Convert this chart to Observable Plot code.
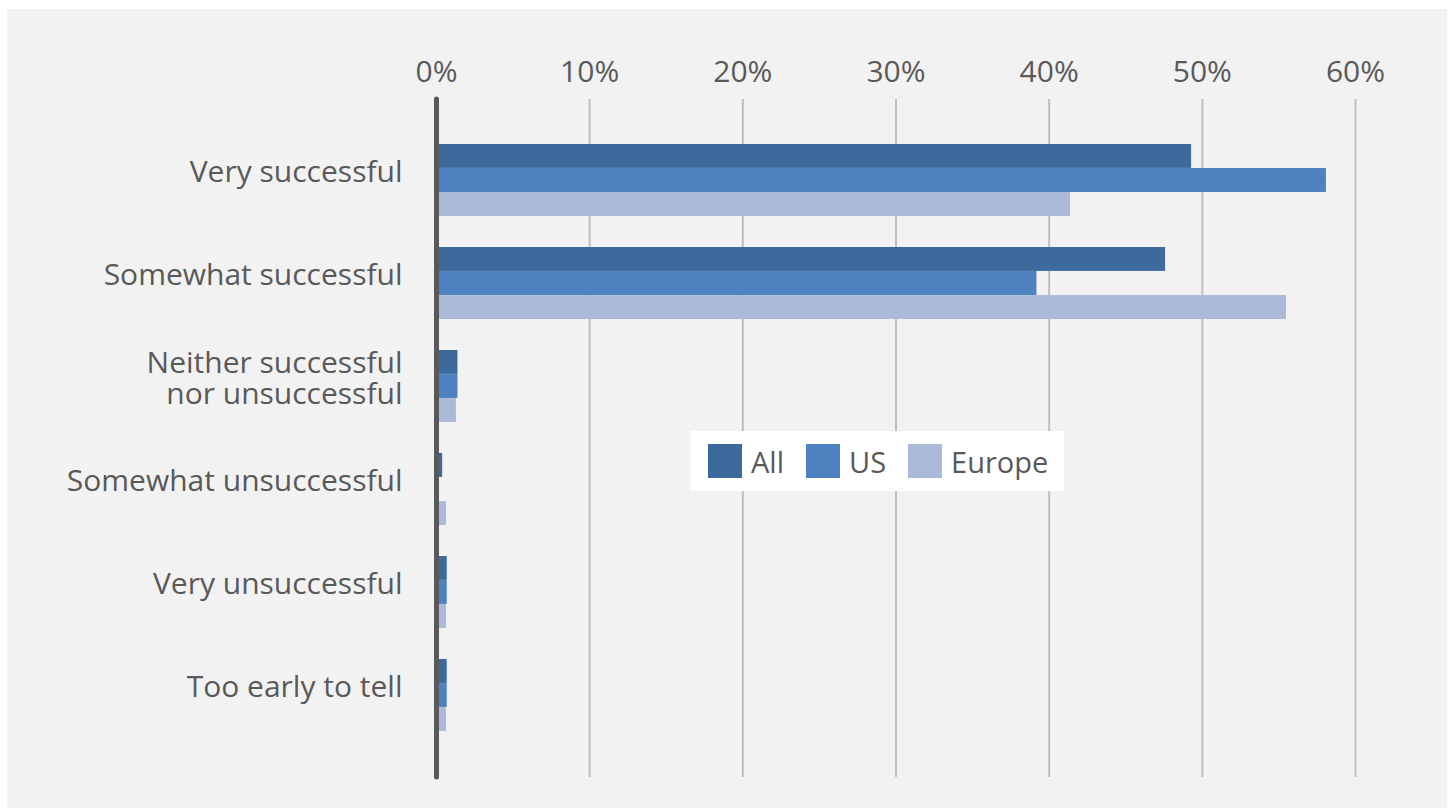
<!DOCTYPE html>
<html>
<head>
<meta charset="utf-8">
<script src="https://cdn.jsdelivr.net/npm/d3@7"></script>
<script src="https://cdn.jsdelivr.net/npm/@observablehq/plot@0.6"></script>
<style>
  body { margin: 0; background: #ffffff; }
  #panel { position: absolute; left: 7px; top: 9px; width: 1440px; height: 799px; background: #f2f2f2; font-family: "Open Sans", sans-serif; color: #595959; }
  #legend { position: absolute; left: 684px; top: 422px; width: 373px; height: 60px; background: #ffffff; display: flex; align-items: center; box-sizing: border-box; padding-left: 17px; font-size: 29px; }
  .item { display: flex; align-items: center; margin-right: 22px; }
  .sw { width: 34px; height: 34px; margin-right: 9px; }
</style>
</head>
<body>
<div id="panel"><div id="chart"></div><div id="legend"></div></div>
<script>
const categories = ["Very successful", "Somewhat successful", "Neither successful\nnor unsuccessful", "Somewhat unsuccessful", "Very unsuccessful", "Too early to tell"];
const series = ["All", "US", "Europe"];
const allValues = [0.493, 0.476, 0.014, 0.004, 0.007, 0.007];
const usValues = [0.581, 0.392, 0.014, 0.0, 0.007, 0.007];
const europeValues = [0.414, 0.555, 0.013, 0.0065, 0.0065, 0.0065];
const xTicks = [0, 0.1, 0.2, 0.3, 0.4, 0.5, 0.6];
const colors = ["#3d6a9c", "#4d81bf", "#abbad8"];

const W = 1440, H = 799, mt = 90, mb = 31;
const padInner = 0.3, padOuter = 0.44;
const step = (H - mt - mb) / (categories.length - padInner + 2 * padOuter);
const third = step * (1 - padInner) / 3;

const rows = (vals) => categories.map((c, i) => ({category: c, value: vals[i]}));
const seriesValues = [allValues, usValues, europeValues];

const barMarks = seriesValues.map((vals, k) =>
  Plot.barX(rows(vals), {
    x: "value",
    y: "category",
    fill: colors[k],
    insetTop: k * third,
    insetBottom: (2 - k) * third
  })
);

const chart = Plot.plot({
  width: W,
  height: H,
  marginTop: mt,
  marginBottom: mb,
  marginLeft: 429,
  marginRight: 92,
  style: { background: "transparent", fontFamily: "Open Sans", fontSize: "30px", color: "#595959", overflow: "visible" },
  x: { domain: [0, 0.6], label: null },
  y: { domain: categories, paddingInner: padInner, paddingOuter: padOuter, label: null },
  marks: [
    Plot.gridX(xTicks, { stroke: "#bfbfbf", strokeWidth: 2, strokeOpacity: 1 }),
    ...barMarks,
    Plot.ruleX([0], { stroke: "#595959", strokeWidth: 5, strokeLinecap: "round" }),
    Plot.axisX(xTicks, { anchor: "top", tickSize: 0, tickPadding: 18, tickFormat: d3.format(".0%"), fontSize: 30, fill: "#595959", label: null }),
    Plot.axisY({ anchor: "left", tickSize: 0, tickPadding: 34, dy: -8, fontSize: 30, lineHeight: 1.02, fill: "#595959", label: null })
  ]
});
document.getElementById("chart").appendChild(chart);

const legend = document.getElementById("legend");
series.forEach((s, k) => {
  const item = document.createElement("div");
  item.className = "item";
  const sw = document.createElement("div");
  sw.className = "sw";
  sw.style.background = colors[k];
  const t = document.createElement("span");
  t.textContent = s;
  item.appendChild(sw);
  item.appendChild(t);
  legend.appendChild(item);
});
</script>
</body>
</html>
